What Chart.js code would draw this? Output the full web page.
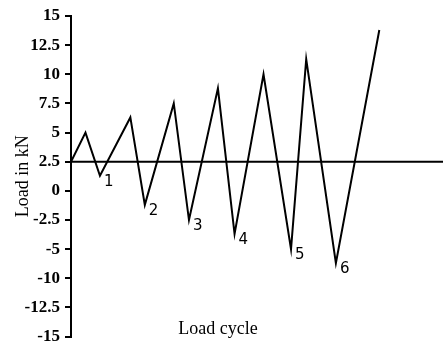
<!DOCTYPE html>
<html>
<head>
<meta charset="utf-8">
<script src="https://cdn.jsdelivr.net/npm/chart.js@4.4.0/dist/chart.umd.min.js"></script>
<style>
  html, body { margin: 0; padding: 0; background: #fff; }
  #wrap { width: 443px; height: 345px; }
</style>
</head>
<body>
<div id="wrap"><canvas id="load-chart"></canvas></div>
<script>
// load history: x = time step, y = load in kN
const cycleTimes = [0, 1, 2, 4.1, 5.1, 7.1, 8.15, 10.15, 11.3, 13.3, 15.2, 16.25, 18.3, 21.3];
const loadValues = [2.5, 5, 1.3, 6.3, -1.2, 7.5, -2.5, 8.8, -3.7, 10, -5, 11.3, -6.2, 13.8];
const baseLoad = 2.5;
const xMax = 25.7;

// cycle numbers written next to each trough
const cycleLabels = ["1", "2", "3", "4", "5", "6"];
const troughIndex = [2, 4, 6, 8, 10, 12];

// tick labels as printed on the axis, bottom to top
const yTickLabels = ["-15", "-12.5", "-10", "-5", "-2.5", "0", "2.5", "5", "7.5", "10", "12.5", "15"];

Chart.defaults.font.family = "'Liberation Serif', 'Times New Roman', serif";
Chart.defaults.color = "#000";

const cycleLabelPlugin = {
  id: "cycleLabels",
  afterDatasetsDraw(chart) {
    const ctx = chart.ctx;
    const pts = chart.getDatasetMeta(0).data;
    ctx.save();
    ctx.fillStyle = "#000";
    ctx.font = "15px 'DejaVu Sans', sans-serif";
    ctx.textAlign = "left";
    ctx.textBaseline = "middle";
    cycleLabels.forEach((lbl, i) => {
      const p = pts[troughIndex[i]];
      ctx.fillText(lbl, p.x + 4, p.y + 6);
    });

    // x axis title sits inside the plot area
    const area = chart.chartArea;
    ctx.font = "18px 'Liberation Serif', serif";
    ctx.textAlign = "center";
    ctx.fillText("Load cycle", area.left + area.width * 0.395, area.bottom - 7);
    ctx.restore();
  }
};

new Chart(document.getElementById("load-chart"), {
  type: "line",
  data: {
    datasets: [{
      label: "Load",
      data: cycleTimes.map((t, i) => ({ x: t, y: loadValues[i] })),
      borderColor: "#000",
      borderWidth: 2,
      pointRadius: 0,
      tension: 0
    }, {
      label: "Base",
      data: [{ x: 0, y: baseLoad }, { x: xMax, y: baseLoad }],
      borderColor: "#000",
      borderWidth: 2,
      pointRadius: 0
    }]
  },
  options: {
    responsive: true,
    maintainAspectRatio: false,
    animation: false,
    layout: { padding: { top: 16, right: 0, bottom: 4, left: 0 } },
    plugins: { legend: { display: false }, tooltip: { enabled: false } },
    scales: {
      x: { type: "linear", min: 0, max: xMax, display: false },
      y: {
        min: -12.5,
        max: 15,
        afterFit: (axis) => { axis.width = 71; },
        ticks: {
          stepSize: 2.5,
          padding: 5,
          font: { size: 17, weight: "bold", lineHeight: 0.4 },
          callback: (v, i) => yTickLabels[i]
        },
        grid: { drawOnChartArea: false, drawTicks: true, tickLength: 6, color: "#000", lineWidth: 2 },
        border: { display: true, color: "#000", width: 2 },
        title: {
          display: true,
          text: "Load in kN",
          font: { size: 18 },
          padding: { top: 12, bottom: 0 }
        }
      }
    }
  },
  plugins: [cycleLabelPlugin]
});
</script>
</body>
</html>
